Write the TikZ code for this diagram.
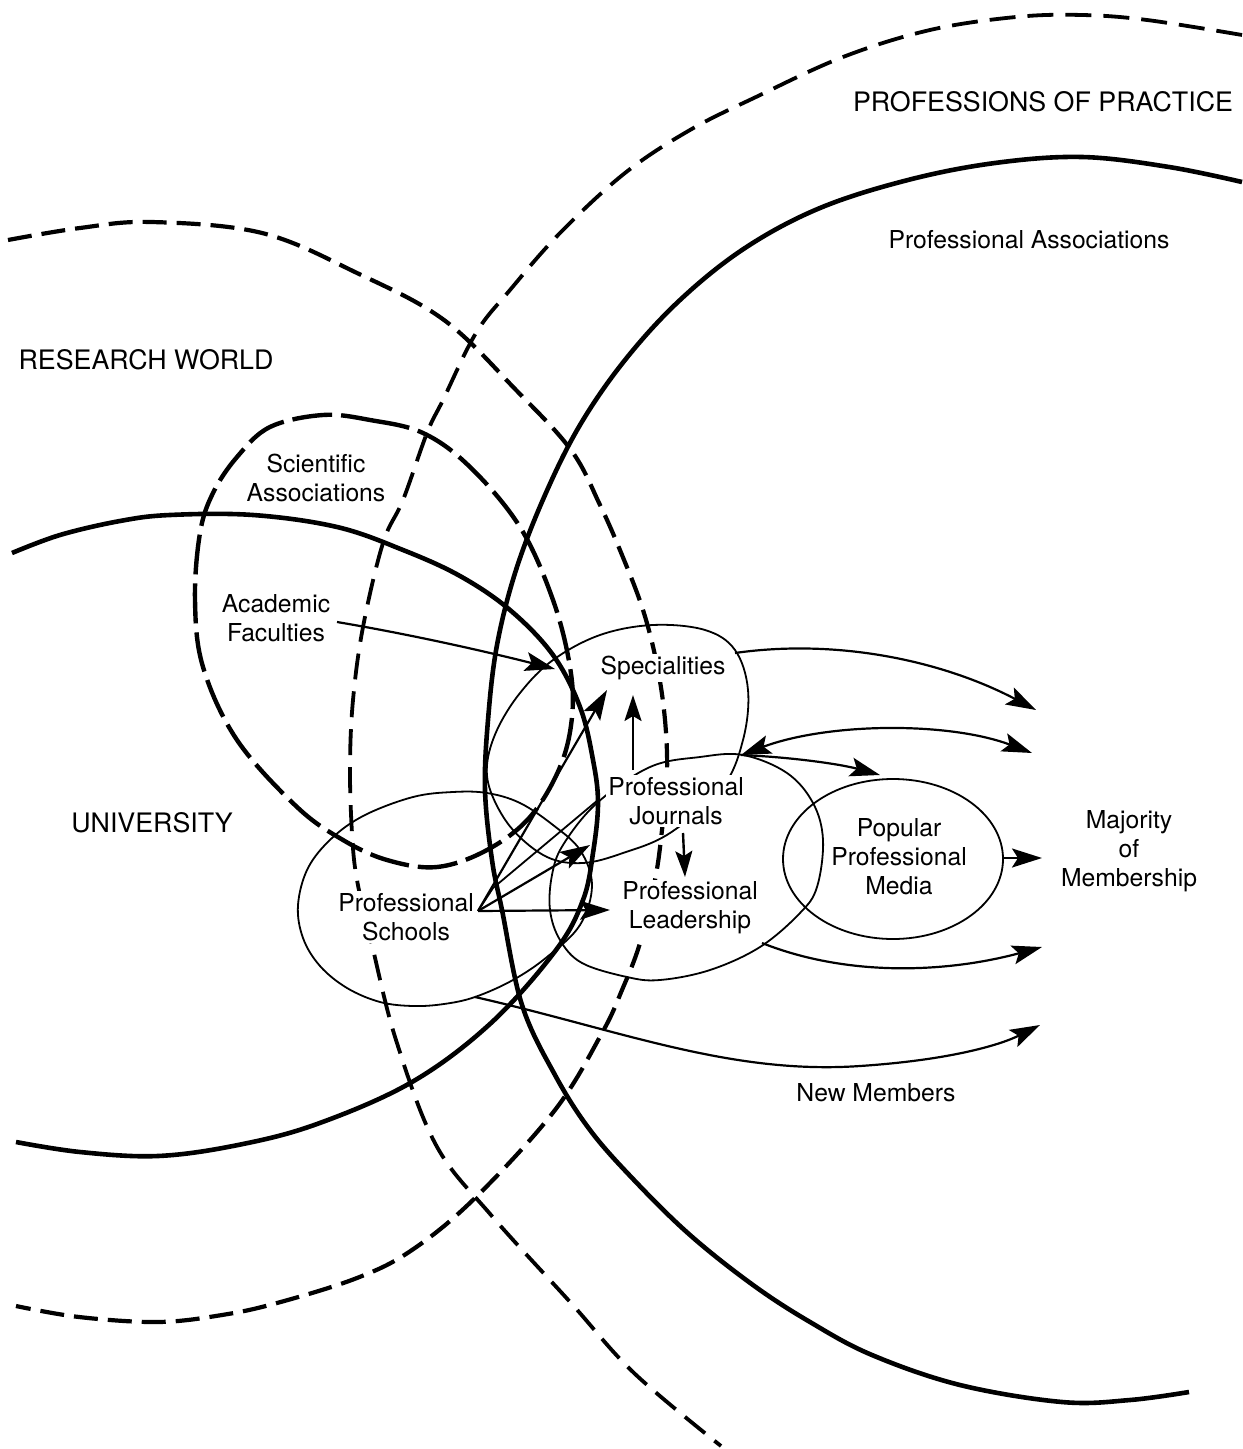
\documentclass[tikz,border=0pt]{standalone}
\usepackage{fontspec}
\setmainfont{TeX Gyre Heros}
\usetikzlibrary{arrows.meta}
\begin{document}
\begin{tikzpicture}[x=0.5pt,y=-0.5pt,
  bigsolid/.style={line width=2.3pt},
  rwdash/.style={line width=2.1pt, dash pattern=on 12pt off 5pt},
  popdash/.style={line width=1.9pt, dash pattern=on 13pt off 6pt},
  sadash/.style={line width=2.2pt, dash pattern=on 20pt off 4.5pt},
  ellthin/.style={line width=0.9pt},
  conn/.style={line width=1.1pt, -{Stealth[length=15pt,width=9.5pt,inset=3pt]}},
  connboth/.style={line width=1.1pt, {Stealth[length=15pt,width=9.5pt,inset=3pt]}-{Stealth[length=15pt,width=9.5pt,inset=3pt]}},
  smallconn/.style={line width=1.2pt, -{Stealth[length=13pt,width=8.5pt,inset=2.5pt]}},
  lbl/.style={font=\fontsize{12.35}{14.5}\selectfont, align=center, inner sep=1pt},
  caplbl/.style={font=\fontsize{13.4}{16}\selectfont, inner sep=0pt},
]
\useasboundingbox (0,0) rectangle (1242,1449);

% Research world (dashed circle)
\draw[rwdash] plot[smooth, tension=0.6] coordinates {(8,240) (80,228) (151,222) (262,233) (357,273) (444,320) (516,390) (571,450) (600,505) (622,555) (643,610) (657,665) (665,720) (667,775) (662,830) (655,880) (640,943) (622,990) (602,1033) (555,1110) (475,1198) (412,1250) (357,1278) (277,1303) (222,1315) (158,1322) (79,1317) (16,1306)};

% Professions of practice (dashed)
\draw[popdash] plot[smooth, tension=0.6] coordinates {(1242,35) (1147,20) (1082,15) (1016,17) (930,30) (843,57) (756,97) (690,130) (625,173) (560,233) (510,290) (476,333) (443,400) (427,433) (403,500) (383,543) (363,627) (353,700) (350,767) (352,833) (357,880) (372,945) (396,1040) (436,1145) (491,1215) (571,1303) (634,1373) (721,1446)};

% Professional associations (solid)
\draw[bigsolid] plot[smooth, tension=0.6] coordinates {(1242,182) (1169,167) (1082,157) (995,163) (908,180) (820,208) (745,248) (680,300) (625,360) (580,425) (545,495) (516,570) (497,645) (488,720) (485,790) (492,860) (502,910) (522,1005) (555,1075) (590,1130) (634,1180) (690,1235) (753,1285) (810,1322) (872,1355) (960,1385) (1062,1402) (1130,1400) (1189,1392)};

% University (solid)
\draw[bigsolid] plot[smooth, tension=0.6] coordinates {(12,553) (60,535) (120,521) (170,515) (253,515) (337,527) (403,550) (460,576) (510,610) (553,655) (580,707) (593,760) (598,803) (593,853) (583,900) (556,950) (491,1023) (412,1082) (317,1124) (238,1145) (158,1156) (80,1152) (16,1142)};

% Scientific associations (dashed ellipse)
\draw[sadash] plot[smooth cycle, tension=0.6] coordinates {(323,415) (370,420) (423,433) (470,467) (520,527) (553,600) (570,667) (572,717) (560,767) (530,817) (487,850) (437,867) (387,860) (343,840) (297,807) (237,740) (203,667) (195,600) (200,533) (213,493) (237,457) (270,427)};

% Specialities ellipse
\draw[ellthin] plot[smooth cycle, tension=0.6] coordinates {(553,660) (600,635) (653,625) (705,630) (735,650) (748,690) (743,740) (722,788) (670,833) (623,853) (583,863) (547,857) (513,830) (492,795) (487,765) (497,730) (520,693)};

% Journals / Leadership ellipse
\draw[ellthin] plot[smooth cycle, tension=0.6] coordinates {(563,845) (597,803) (650,767) (700,757) (743,755) (787,773) (813,803) (823,840) (817,887) (800,913) (760,947) (710,970) (660,980) (627,977) (582,963) (560,940) (550,910) (552,875)};

% Professional schools ellipse
\draw[ellthin] plot[smooth cycle, tension=0.6] coordinates {(298,905) (308,868) (332,838) (365,815) (413,797) (453,792) (487,793) (520,803) (553,825) (580,850) (592,885) (580,925) (547,957) (513,980) (475,997) (444,1004) (413,1006) (380,1002) (347,988) (320,966) (303,938)};

% Popular professional media ellipse
\draw[ellthin] (893,859) ellipse [x radius=110, y radius=80];

% Labels
\node[caplbl] (popr) at (1043,102) {PROFESSIONS OF PRACTICE};
\node[lbl] (passoc) at (1029,240) {Professional Associations};
\node[caplbl] (rworld) at (146,360) {RESEARCH WORLD};
\node[lbl] (sciassoc) at (316,478) {Scientific\\Associations};
\node[lbl] (acfac) at (276,618) {Academic\\Faculties};
\node[caplbl] (univ) at (152,823) {UNIVERSITY};
\node[lbl,fill=white] (spec) at (663,668) {Specialities};
\node[lbl,fill=white] (journ) at (676,801) {Professional\\Journals};
\node[lbl] (media) at (899,857) {Popular\\Professional\\Media};
\node[lbl] (major) at (1129,851) {Majority\\of\\Membership};
\node[lbl,fill=white] (lead) at (690,908) {Professional\\Leadership};
\node[lbl,fill=white] (school) at (406,917) {Professional\\Schools};
\node[lbl] (newm) at (876,1093) {New Members};

% Connector coordinates
\coordinate (V) at (478,911);
\coordinate (Vc) at (493,888);
\coordinate (Vd) at (598,800);
\coordinate (afS) at (337,622);
\coordinate (afT) at (555,669);
\coordinate (spT) at (607,690);
\coordinate (jlT) at (590,845);
\coordinate (ldT) at (610,910);
\coordinate (spR) at (735,653);
\coordinate (jrS) at (741,755);
\coordinate (majA) at (1036,710);
\coordinate (majB) at (1032,753);
\coordinate (medT) at (880,775);
\coordinate (medR) at (1004,858);
\coordinate (majC) at (1042,858);
\coordinate (ldR) at (762,943);
\coordinate (majD) at (1042,947);
\coordinate (scB) at (475,997);
\coordinate (majE) at (1040,1025);
\coordinate (upS) at (633,770);
\coordinate (upT) at (633,695);
\coordinate (dnS) at (683,833);
\coordinate (dnT) at (685,877);

% Connectors
\draw[conn] (afS) .. controls (420,636) and (500,655) .. (afT);
\draw[conn] (V) -- (spT);
\draw[conn] (V) -- (jlT);
\draw[conn] (V) -- (ldT);
\draw[ellthin] (V) -- (Vc) -- (Vd);
\draw[smallconn] (upS) -- (upT);
\draw[smallconn] (dnS) -- (dnT);
\draw[conn] (spR) .. controls (840,638) and (945,662) .. (majA);
\draw[connboth] (jrS) .. controls (830,722) and (950,722) .. (majB);
\draw[conn] (jrS) .. controls (790,757) and (840,764) .. (medT);
\draw[conn] (medR) -- (majC);
\draw[conn] (ldR) .. controls (850,978) and (950,972) .. (majD);
\draw[conn] (scB) .. controls (620,1030) and (730,1075) .. (860,1066) .. controls (950,1060) and (1000,1045) .. (majE);
\end{tikzpicture}
\end{document}
